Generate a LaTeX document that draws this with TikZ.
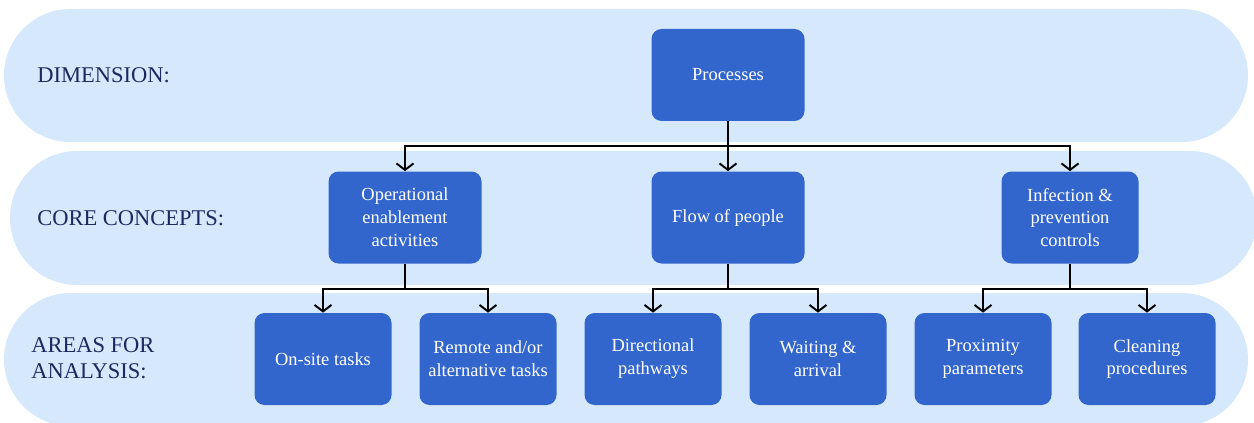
\documentclass[tikz,border=0pt]{standalone}
\usepackage{fontspec}
\setmainfont{Liberation Serif}
\usetikzlibrary{arrows.meta, positioning, calc}
\definecolor{bandblue}{HTML}{D6E8FC}
\definecolor{boxblue}{HTML}{3366CC}
\definecolor{navy}{HTML}{1B2A5E}

\begin{document}
\begin{tikzpicture}[
    >={Straight Barb[length=1.3mm, width=3.4mm]},
    band/.style={fill=bandblue, draw=none},
    box/.style={fill=boxblue, rounded corners=0.2cm, text=white,
                align=center, minimum width=2.74cm, minimum height=1.84cm,
                font=\fontsize{10.5}{13}\selectfont},
    wide/.style={minimum width=3.06cm},
    lbl/.style={anchor=west, inner sep=0pt, text=navy, align=left,
                font=\fontsize{12.8}{14.6}\selectfont},
    arr/.style={->, line width=1.1pt}
  ]
  \useasboundingbox (0,0) rectangle (25.08,-8.46);
  \clip (0,0) rectangle (25.08,-8.46);

  % Bands
  \fill[band, rounded corners=1.33cm] (0.08,-0.18) rectangle (24.96,-2.84);
  \fill[band, rounded corners=1.34cm] (0.20,-3.02) rectangle (25.14,-5.70);
  \fill[band, rounded corners=1.33cm] (0.08,-5.86) rectangle (24.96,-8.52);

  % Row labels
  \node[lbl] (ldim) at (0.74,-1.50) {DIMENSION:};
  \node[lbl] (lcore) at (0.74,-4.36) {CORE CONCEPTS:};
  \node[lbl] (lareas) at (0.62,-7.16) {AREAS FOR\\ANALYSIS:};

  % Row 1: dimension
  \node[box, wide] (proc) at (14.56,-1.50) {Processes};

  % Row 2: core concepts
  \node[box, wide] (oper) at (8.10,-4.35) {Operational\\enablement\\activities};
  \node[box, wide] (flow) at (14.56,-4.35) {Flow of people};
  \node[box] (infec) at (21.40,-4.35) {Infection \&\\prevention\\controls};

  % Row 3: areas for analysis
  \node[box] (onsite) at (6.46,-7.18) {On-site tasks};
  \node[box] (remote) at (9.76,-7.18) {Remote and/or\\alternative tasks};
  \node[box] (direct) at (13.06,-7.18) {Directional\\pathways};
  \node[box] (wait) at (16.36,-7.18) {Waiting \&\\arrival};
  \node[box] (prox) at (19.66,-7.18) {Proximity\\parameters};
  \node[box] (clean) at (22.94,-7.18) {Cleaning\\procedures};

  % Connectors
  \draw[arr] (proc.south) -- (proc.south |- flow.north);
  \draw[arr] (proc.south) -- ++(0,-0.5) -| (oper.north);
  \draw[arr] (proc.south) -- ++(0,-0.5) -| (infec.north);

  \draw[arr] (oper.south) -- ++(0,-0.5) -| (onsite.north);
  \draw[arr] (oper.south) -- ++(0,-0.5) -| (remote.north);
  \draw[arr] (flow.south) -- ++(0,-0.5) -| (direct.north);
  \draw[arr] (flow.south) -- ++(0,-0.5) -| (wait.north);
  \draw[arr] (infec.south) -- ++(0,-0.5) -| (prox.north);
  \draw[arr] (infec.south) -- ++(0,-0.5) -| (clean.north);
\end{tikzpicture}
\end{document}
